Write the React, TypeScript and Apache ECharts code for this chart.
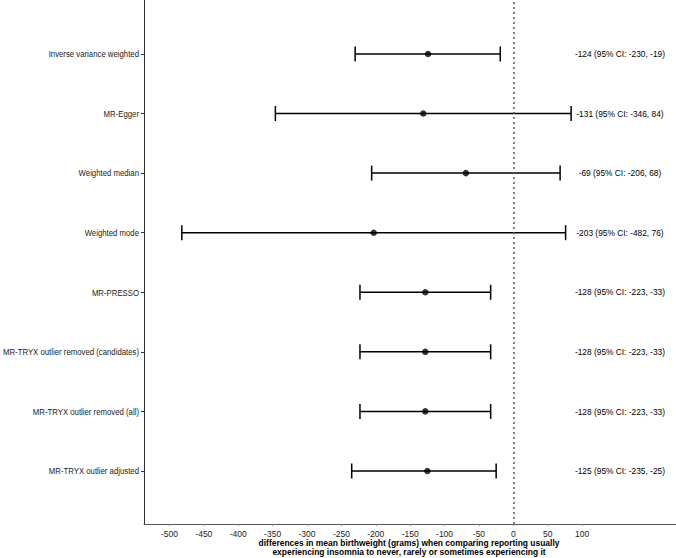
import React, { useEffect, useRef } from "react";
import * as echarts from "echarts";

const methods = [
  "Inverse variance weighted",
  "MR-Egger",
  "Weighted median",
  "Weighted mode",
  "MR-PRESSO",
  "MR-TRYX outlier removed (candidates)",
  "MR-TRYX outlier removed (all)",
  "MR-TRYX outlier adjusted",
];
const estimates = [-124, -131, -69, -203, -128, -128, -128, -125];
const lower = [-230, -346, -206, -482, -223, -223, -223, -235];
const upper = [-19, 84, 68, 76, -33, -33, -33, -25];
const xTicks = [-500, -450, -400, -350, -300, -250, -200, -150, -100, -50, 0, 50, 100];
const xMin = -537;
const xMax = 236.5;
const annotationX = 155;
const axisTitle = [
  "differences in mean birthweight (grams) when comparing reporting usually",
  "experiencing insomnia to never, rarely or sometimes experiencing it",
];

const FONT = "'Liberation Sans', Arial, sans-serif";

export default function App() {
  const ref = useRef<HTMLDivElement>(null);
  useEffect(() => {
    if (!ref.current) return;
    const chart = echarts.init(ref.current, null, { renderer: "svg" });
    const n = methods.length;
    const yPos = methods.map((_, i) => n - i);
    const rows = methods.map((m, i) => [yPos[i], lower[i], upper[i], estimates[i]]);
    const labels = methods.map(
      (_, i) => `${estimates[i]} (95% CI: ${lower[i]}, ${upper[i]})`
    );
    chart.setOption({
      animation: false,
      grid: {
        left: 144,
        right: 0,
        top: 0,
        bottom: 34,
        containLabel: false,
        outerBoundsMode: "none",
      },
      graphic: [
        {
          type: "text",
          x: 409,
          y: 538,
          scaleX: 0.89,
          style: {
            text: axisTitle.join("\n"),
            align: "center",
            verticalAlign: "top",
            fontSize: 9.5,
            fontWeight: "bold",
            fontFamily: FONT,
            lineHeight: 9.5,
            fill: "#000",
          },
        },
      ],
      xAxis: {
        type: "value",
        min: xMin,
        max: xMax,
        splitLine: { show: false },
        axisLine: { show: true, onZero: false, lineStyle: { color: "#555", width: 1 } },
        axisTick: { show: true, length: 2, lineStyle: { color: "#888" }, customValues: xTicks },
        axisLabel: {
          customValues: xTicks,
          fontSize: 8.5,
          fontFamily: FONT,
          color: "#222",
          margin: 5,
        },
      },
      yAxis: {
        type: "value",
        min: 0.11,
        max: 8.906,
        splitLine: { show: false },
        axisLine: { show: true, onZero: false, lineStyle: { color: "#333", width: 1 } },
        axisTick: { show: true, length: 3, lineStyle: { color: "#333" }, customValues: yPos },
        axisLabel: { show: false },
      },
      series: [
        {
          type: "custom",
          data: rows,
          encode: { x: [1, 2], y: 0 },
          renderItem: (params: any, api: any) => {
            const y = api.value(0);
            const lo = api.coord([api.value(1), y]);
            const hi = api.coord([api.value(2), y]);
            const h = 7.5;
            const st = { stroke: "#000", lineWidth: 1.5 };
            return {
              type: "group",
              children: [
                { type: "line", shape: { x1: lo[0], y1: lo[1], x2: hi[0], y2: hi[1] }, style: st },
                { type: "line", shape: { x1: lo[0], y1: lo[1] - h, x2: lo[0], y2: lo[1] + h }, style: st },
                { type: "line", shape: { x1: hi[0], y1: hi[1] - h, x2: hi[0], y2: hi[1] + h }, style: st },
              ],
            };
          },
          z: 3,
        },
        {
          type: "scatter",
          data: estimates.map((e, i) => [e, yPos[i]]),
          symbol: "circle",
          symbolSize: 6.5,
          itemStyle: { color: "#000" },
          z: 4,
          markLine: {
            silent: true,
            symbol: "none",
            label: { show: false },
            lineStyle: { type: [2, 3], color: "#555", width: 1.5 },
            data: [{ xAxis: 0 }],
          },
        },
        {
          type: "custom",
          data: yPos.map((y, i) => [annotationX, y, i]),
          encode: { x: 0, y: 1 },
          clip: false,
          renderItem: (params: any, api: any) => {
            const p = api.coord([api.value(0), api.value(1)]);
            return {
              type: "text",
              x: p[0],
              y: p[1],
              scaleX: 0.88,
              style: {
                text: labels[params.dataIndex],
                align: "center",
                verticalAlign: "middle",
                fontSize: 9.5,
                fontFamily: FONT,
                fill: "#000",
              },
            };
          },
        },
        {
          type: "custom",
          data: yPos.map((y, i) => [xMin, y, i]),
          encode: { x: 0, y: 1 },
          clip: false,
          renderItem: (params: any, api: any) => {
            const p = api.coord([api.value(0), api.value(1)]);
            return {
              type: "text",
              x: p[0] - 5,
              y: p[1],
              scaleX: 0.82,
              style: {
                text: methods[params.dataIndex],
                align: "right",
                verticalAlign: "middle",
                fontSize: 9.5,
                fontFamily: FONT,
                fill: "#222",
              },
            };
          },
        },
      ],
    });
    return () => chart.dispose();
  }, []);
  return (
    <div
      ref={ref}
      style={{ position: "fixed", left: 0, top: 0, width: 676, height: 558, background: "#fff" }}
    />
  );
}
